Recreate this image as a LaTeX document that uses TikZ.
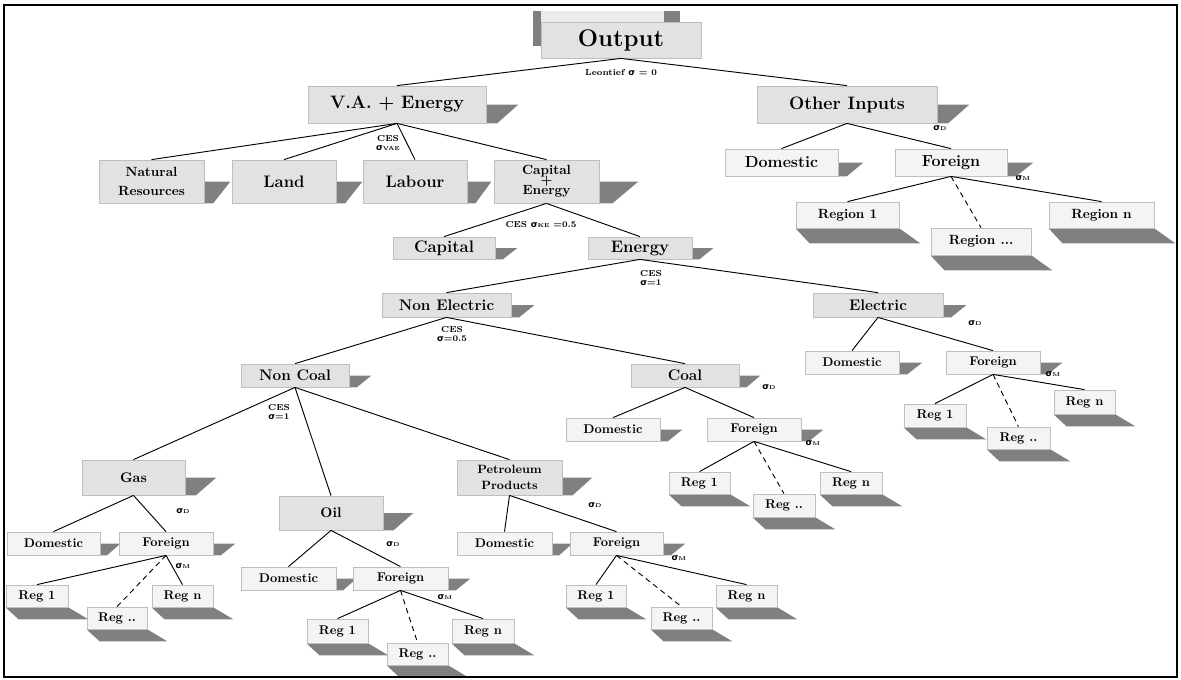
\documentclass[tikz,border=0pt]{standalone}
\usepackage{fontspec}
\newfontfamily\dvs{DejaVu Sans}
\usetikzlibrary{calc}
\pgfdeclarelayer{bg}
\pgfsetlayers{bg,main}
\definecolor{boxgray}{HTML}{E2E2E2}
\definecolor{lightbox}{HTML}{F4F4F4}
\definecolor{edgegray}{HTML}{BEBEBE}
\definecolor{shadowgray}{HTML}{808080}
\newcommand\fsz[2]{\fontsize{#1}{#2}\selectfont}
\newcommand\sig{{\dvs\bfseries σ}}
\newcommand\sbs[1]{{\fsz{4.2}{5}#1}}
\newcommand\bx[7]{\node[#6, minimum width={(#4-#2)*0.75pt}, minimum height={(#5-#3)*0.75pt}] (#1) at ({(#2+#4)/2},{(#3+#5)/2}) {#7};}
\newcommand\rsh[2]{\begin{pgfonlayer}{bg}\fill[shadowgray] (#1.south east) -- (#1.east) -- ([xshift=#2*0.75pt]#1.east) -- ([xshift=#2*0.25pt]#1.south east) -- cycle;\end{pgfonlayer}}
\newcommand\bsh[3]{\begin{pgfonlayer}{bg}\fill[shadowgray] (#1.south west) -- (#1.south east) -- ([shift={(#2+7,#3)}]#1.south east) -- ([shift={(#2,#3)}]#1.south west) -- cycle;\end{pgfonlayer}}
\tikzset{
  bigbox/.style={draw=edgegray, fill=boxgray, line width=0.6pt, inner sep=0pt, align=center},
  smallbox/.style={draw=edgegray, fill=lightbox, line width=0.6pt, inner sep=0pt, align=center},
  conn/.style={line width=0.7pt},
  dconn/.style={line width=0.7pt, dash pattern=on 4pt off 3pt},
  lab/.style={inner sep=0pt, font=\bfseries\fsz{6.5}{7.5}, align=center},
}
\begin{document}
\begin{tikzpicture}[x=0.75pt,y=-0.75pt]
\useasboundingbox (0,0) rectangle (1181,679);
\begin{pgfonlayer}{bg}
\fill[white] (0,0) rectangle (1181,679);
% ghost behind Output
\fill[boxgray!70] (541,11) rectangle (664,22);
\fill[shadowgray] (533,11) rectangle (541,46);
\fill[shadowgray] (664,11) rectangle (680,22);
\end{pgfonlayer}
\draw[line width=1.5pt] (4,5) rectangle (1177,677);

% level 0-1
\bx{out}{541}{22}{701}{58}{bigbox, font=\bfseries\fsz{18}{21}}{Output}
\bx{vae}{308}{86}{486}{123}{bigbox, font=\bfseries\fsz{13.5}{16}}{V.A. + Energy}
\bx{oi}{757}{86}{937}{123}{bigbox, font=\bfseries\fsz{13.5}{16}}{Other Inputs}
\rsh{vae}{32}\rsh{oi}{32}

% level 2 left
\bx{nr}{99}{160}{204}{203}{bigbox, font=\bfseries\fsz{10}{14}}{Natural\\Resources}
\bx{land}{232}{160}{336}{203}{bigbox, font=\bfseries\fsz{12.5}{15}}{Land}
\bx{lab}{363}{160}{467}{203}{bigbox, font=\bfseries\fsz{12.5}{15}}{Labour}
\bx{ce}{494}{160}{599}{203}{bigbox, font=\bfseries\fsz{10}{12}}{Capital\\[-4.5pt]+\\[-4.5pt]Energy}
\rsh{nr}{26}\rsh{land}{26}\rsh{lab}{24}\rsh{ce}{39}

% other inputs children
\bx{oidom}{725}{149}{838}{176}{smallbox, font=\bfseries\fsz{12}{14}}{Domestic}
\bx{oifor}{895}{149}{1007}{176}{smallbox, font=\bfseries\fsz{12}{14}}{Foreign}
\rsh{oidom}{25}\rsh{oifor}{26}
\bx{r1}{796}{202}{899}{228}{smallbox, font=\bfseries\fsz{10}{12}}{Region 1}
\bx{r2}{931}{228}{1031}{255}{smallbox, font=\bfseries\fsz{10}{12}}{Region ...}
\bx{rn}{1049}{202}{1154}{228}{smallbox, font=\bfseries\fsz{10}{12}}{Region n}
\bsh{r1}{14}{15}\bsh{r2}{14}{15}\bsh{rn}{14}{15}

% capital / energy
\bx{cap}{393}{237}{495}{259}{bigbox, font=\bfseries\fsz{12.5}{15}}{Capital}
\bx{en}{588}{237}{692}{259}{bigbox, font=\bfseries\fsz{12.5}{15}}{Energy}
\rsh{cap}{22}\rsh{en}{21}

% non electric / electric
\bx{ne}{382}{293}{511}{317}{bigbox, font=\bfseries\fsz{11.5}{14}}{Non Electric}
\bx{el}{813}{293}{943}{317}{bigbox, font=\bfseries\fsz{11.5}{14}}{Electric}
\rsh{ne}{23}\rsh{el}{23}
\bx{eldom}{805}{351}{899}{374}{smallbox, font=\bfseries\fsz{9.5}{11}}{Domestic}
\bx{elfor}{946}{351}{1040}{374}{smallbox, font=\bfseries\fsz{9.5}{11}}{Foreign}
\rsh{eldom}{23}\rsh{elfor}{22}
\bx{elr1}{904}{404}{966}{427}{smallbox, font=\bfseries\fsz{9.5}{11}}{Reg 1}
\bx{elr2}{987}{427}{1050}{449}{smallbox, font=\bfseries\fsz{9.5}{11}}{Reg ..}
\bx{elrn}{1054}{390}{1115}{414}{smallbox, font=\bfseries\fsz{9.5}{11}}{Reg n}
\bsh{elr1}{13}{12}\bsh{elr2}{13}{12}\bsh{elrn}{13}{12}

% non coal / coal
\bx{nc}{241}{364}{349}{387}{bigbox, font=\bfseries\fsz{11.5}{14}}{Non Coal}
\bx{coal}{631}{364}{739}{387}{bigbox, font=\bfseries\fsz{11.5}{14}}{Coal}
\rsh{nc}{22}\rsh{coal}{21}
\bx{codom}{566}{418}{660}{441}{smallbox, font=\bfseries\fsz{9.5}{11}}{Domestic}
\bx{cofor}{707}{418}{801}{441}{smallbox, font=\bfseries\fsz{9.5}{11}}{Foreign}
\rsh{codom}{22}\rsh{cofor}{22}
\bx{cor1}{669}{472}{730}{494}{smallbox, font=\bfseries\fsz{9.5}{11}}{Reg 1}
\bx{cor2}{753}{494}{815}{517}{smallbox, font=\bfseries\fsz{9.5}{11}}{Reg ..}
\bx{corn}{820}{472}{882}{494}{smallbox, font=\bfseries\fsz{9.5}{11}}{Reg n}
\bsh{cor1}{13}{12}\bsh{cor2}{13}{12}\bsh{corn}{13}{12}

% gas / oil / petroleum
\bx{gas}{82}{460}{185}{495}{bigbox, font=\bfseries\fsz{10.5}{13}}{Gas}
\bx{oil}{279}{496}{383}{530}{bigbox, font=\bfseries\fsz{10.5}{13}}{Oil}
\bx{pp}{457}{460}{562}{495}{bigbox, font=\bfseries\fsz{9}{12.5}}{Petroleum\\Products}
\rsh{gas}{31}\rsh{oil}{30}\rsh{pp}{30}

\bx{gadom}{7}{532}{100}{555}{smallbox, font=\bfseries\fsz{9.5}{11}}{Domestic}
\bx{gafor}{119}{532}{213}{555}{smallbox, font=\bfseries\fsz{9.5}{11}}{Foreign}
\rsh{gadom}{20}\rsh{gafor}{22}
\bx{gar1}{6}{585}{68}{607}{smallbox, font=\bfseries\fsz{9.5}{11}}{Reg 1}
\bx{gar2}{87}{607}{147}{629}{smallbox, font=\bfseries\fsz{9.5}{11}}{Reg ..}
\bx{garn}{152}{585}{213}{607}{smallbox, font=\bfseries\fsz{9.5}{11}}{Reg n}
\bsh{gar1}{13}{12}\bsh{gar2}{13}{12}\bsh{garn}{13}{12}

\bx{oidm}{241}{567}{336}{590}{smallbox, font=\bfseries\fsz{9.5}{11}}{Domestic}
\bx{oifr}{353}{567}{448}{590}{smallbox, font=\bfseries\fsz{9.5}{11}}{Foreign}
\rsh{oidm}{20}\rsh{oifr}{22}
\bx{oir1}{307}{619}{368}{643}{smallbox, font=\bfseries\fsz{9.5}{11}}{Reg 1}
\bx{oir2}{387}{643}{448}{665}{smallbox, font=\bfseries\fsz{9.5}{11}}{Reg ..}
\bx{oirn}{452}{619}{514}{643}{smallbox, font=\bfseries\fsz{9.5}{11}}{Reg n}
\bsh{oir1}{13}{12}\bsh{oir2}{13}{12}\bsh{oirn}{13}{12}

\bx{pedom}{457}{532}{552}{555}{smallbox, font=\bfseries\fsz{9.5}{11}}{Domestic}
\bx{pefor}{570}{532}{663}{555}{smallbox, font=\bfseries\fsz{9.5}{11}}{Foreign}
\rsh{pedom}{20}\rsh{pefor}{22}
\bx{per1}{566}{585}{626}{607}{smallbox, font=\bfseries\fsz{9.5}{11}}{Reg 1}
\bx{per2}{651}{607}{712}{629}{smallbox, font=\bfseries\fsz{9.5}{11}}{Reg ..}
\bx{pern}{716}{585}{777}{607}{smallbox, font=\bfseries\fsz{9.5}{11}}{Reg n}
\bsh{per1}{13}{12}\bsh{per2}{13}{12}\bsh{pern}{13}{12}

% connectors
\draw[conn] (out.south) -- (vae.north);
\draw[conn] (out.south) -- (oi.north);
\foreach \c in {nr,land,lab,ce} \draw[conn] (vae.south) -- (\c.north);
\draw[conn] (oi.south) -- (oidom.north);
\draw[conn] (oi.south) -- (oifor.north);
\draw[conn] (oifor.south) -- (r1.north);
\draw[dconn] (oifor.south) -- (r2.north);
\draw[conn] (oifor.south) -- (rn.north);
\draw[conn] (ce.south) -- (cap.north);
\draw[conn] (ce.south) -- (en.north);
\draw[conn] (en.south) -- (ne.north);
\draw[conn] (en.south) -- (el.north);
\draw[conn] (el.south) -- (eldom.north);
\draw[conn] (el.south) -- (elfor.north);
\draw[conn] (elfor.south) -- (elr1.north);
\draw[dconn] (elfor.south) -- (elr2.north);
\draw[conn] (elfor.south) -- (elrn.north);
\draw[conn] (ne.south) -- (nc.north);
\draw[conn] (ne.south) -- (coal.north);
\draw[conn] (coal.south) -- (codom.north);
\draw[conn] (coal.south) -- (cofor.north);
\draw[conn] (cofor.south) -- (cor1.north);
\draw[dconn] (cofor.south) -- (cor2.north);
\draw[conn] (cofor.south) -- (corn.north);
\draw[conn] (nc.south) -- (gas.north);
\draw[conn] (nc.south) -- (oil.north);
\draw[conn] (nc.south) -- (pp.north);
\draw[conn] (gas.south) -- (gadom.north);
\draw[conn] (gas.south) -- (gafor.north);
\draw[conn] (gafor.south) -- (gar1.north);
\draw[dconn] (gafor.south) -- (gar2.north);
\draw[conn] (gafor.south) -- (garn.north);
\draw[conn] (oil.south) -- (oidm.north);
\draw[conn] (oil.south) -- (oifr.north);
\draw[conn] (oifr.south) -- (oir1.north);
\draw[dconn] (oifr.south) -- (oir2.north);
\draw[conn] (oifr.south) -- (oirn.north);
\draw[conn] (pp.south) -- (pedom.north);
\draw[conn] (pp.south) -- (pefor.north);
\draw[conn] (pefor.south) -- (per1.north);
\draw[dconn] (pefor.south) -- (per2.north);
\draw[conn] (pefor.south) -- (pern.north);

% labels
\node[lab] (l1) at (621,73) {Leontief \sig\ = 0};
\node[lab] (l2) at (388,143) {CES\\[-1pt]\sig\sbs{VAE}};
\node[lab] (l3) at (940,128) {\sig\sbs{D}};
\node[lab] (l4) at (1023,178) {\sig\sbs{M}};
\node[lab] (l5) at (541,225) {CES \sig\sbs{KE} =0.5};
\node[lab] (l6) at (651,278) {CES\\[-1pt]\sig=1};
\node[lab] (l7) at (452,334) {CES\\[-1pt]\sig=0.5};
\node[lab] (l8) at (975,323) {\sig\sbs{D}};
\node[lab] (l9) at (1053,374) {\sig\sbs{M}};
\node[lab] (l10) at (279,412) {CES\\[-1pt]\sig=1};
\node[lab] (l11) at (769,387) {\sig\sbs{D}};
\node[lab] (l12) at (813,443) {\sig\sbs{M}};
\node[lab] (l13) at (183,511) {\sig\sbs{D}};
\node[lab] (l14) at (183,566) {\sig\sbs{M}};
\node[lab] (l15) at (393,544) {\sig\sbs{D}};
\node[lab] (l16) at (445,597) {\sig\sbs{M}};
\node[lab] (l17) at (595,505) {\sig\sbs{D}};
\node[lab] (l18) at (679,558) {\sig\sbs{M}};
\end{tikzpicture}
\end{document}
